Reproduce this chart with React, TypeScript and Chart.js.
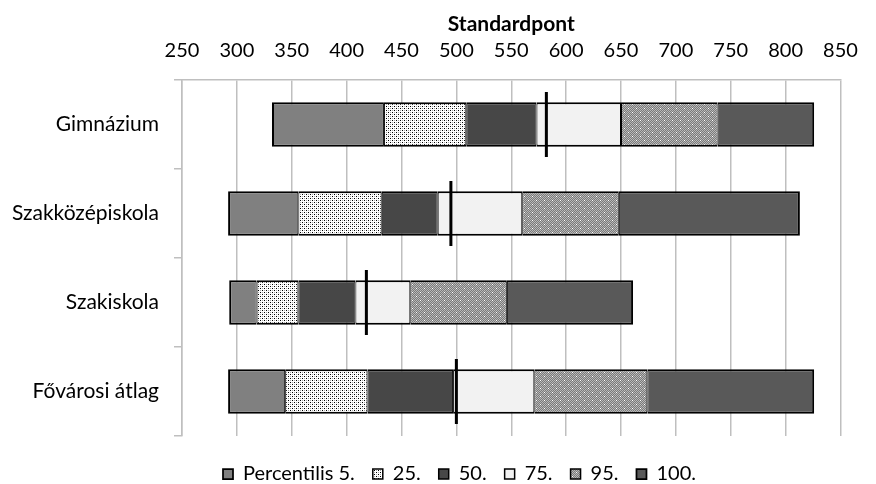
import React, { useEffect, useRef } from 'react';
import { Chart, registerables } from 'chart.js';

Chart.register(...registerables);

// ---- data ----
const categories = ['Gimnázium', 'Szakközépiskola', 'Szakiskola', 'Fővárosi átlag'];
const seriesLabels = ['Percentilis 5.', '25.', '50.', '75.', '95.', '100.'];
const barStart = [332, 292, 293, 292];
const segEnd5 = [434, 356, 318, 344];
const segEnd25 = [509, 432, 356, 419];
const segEnd50 = [573, 483, 408, 497];
const segEnd75 = [650, 560, 458, 571];
const segEnd95 = [738, 648, 546, 674];
const segEnd100 = [826, 813, 661, 826];
const meanValues = [582, 495, 418, 500];
const axisMin = 250;
const axisMax = 850;
const axisStep = 50;
const axisTitle = 'Standardpont';

const FONT = 'Lato, "Noto Sans", sans-serif';

function makePattern(size: number, draw: (g: CanvasRenderingContext2D) => void) {
  const c = document.createElement('canvas');
  c.width = size;
  c.height = size;
  const g = c.getContext('2d') as CanvasRenderingContext2D;
  draw(g);
  return g.createPattern(c, 'repeat') as CanvasPattern;
}

export default function App() {
  const ref = useRef<HTMLCanvasElement | null>(null);

  useEffect(() => {
    document.body.style.margin = '0';
    const canvas = ref.current;
    if (!canvas) return;

    const dotted = makePattern(4, (g) => {
      g.fillStyle = '#ffffff';
      g.fillRect(0, 0, 4, 4);
      g.fillStyle = '#000000';
      g.fillRect(0, 0, 1, 1);
      g.fillRect(2, 2, 1, 1);
      g.fillStyle = '#a8a8a8';
      g.fillRect(2, 0, 1, 1);
      g.fillRect(0, 2, 1, 1);
    });
    const grayDots = makePattern(8, (g) => {
      for (let y = 0; y < 8; y++) {
        for (let x = 0; x < 8; x++) {
          g.fillStyle = (x + y) % 2 ? '#7a7a7a' : '#b8b8b8';
          g.fillRect(x, y, 1, 1);
        }
      }
      g.fillStyle = '#ffffff';
      g.fillRect(0, 0, 1, 1);
      g.fillRect(4, 4, 1, 1);
    });

    const bounds = [barStart, segEnd5, segEnd25, segEnd50, segEnd75, segEnd95, segEnd100];
    const fills: (string | CanvasPattern)[] = ['#808080', dotted, '#474747', '#f2f2f2', grayDots, '#595959'];

    const barSets: any[] = seriesLabels.map((label, i) => ({
      type: 'bar',
      label,
      data: categories.map((_, j) => [bounds[i][j], bounds[i + 1][j]]),
      backgroundColor: fills[i],
      borderColor: '#000000',
      borderWidth: {
        top: 2,
        bottom: 2,
        left: i === 0 ? 2 : 1,
        right: i === seriesLabels.length - 1 ? 2 : 1,
      },
      borderSkipped: false,
      barPercentage: 0.5,
      categoryPercentage: 1,
      order: 1,
    }));

    const meanSet: any = {
      type: 'scatter',
      label: 'mean',
      data: categories.map((c, j) => ({ x: meanValues[j], y: c })),
      pointStyle: 'line',
      pointRotation: 90,
      pointRadius: 32.5,
      pointHoverRadius: 32.5,
      pointBorderColor: '#000000',
      pointBackgroundColor: '#000000',
      pointBorderWidth: 3,
      borderColor: '#000000',
      showLine: false,
      order: 0,
    };

    const legendShift = {
      id: 'legendShift',
      afterLayout(chart: any) {
        const l = chart.legend;
        if (!l) return;
        const dx = 31;
        const dy = 10;
        l.left += dx;
        l.right += dx;
        l.top += dy;
        l.bottom += dy;
      },
    };

    const chart = new Chart(canvas, {
      type: 'bar',
      data: { labels: categories, datasets: [...barSets, meanSet] },
      plugins: [legendShift],
      options: {
        animation: false,
        responsive: false,
        devicePixelRatio: 1,
        indexAxis: 'y',
        events: [],
        layout: { padding: { left: 0, right: 19, top: 0, bottom: 0 } },
        scales: {
          x: {
            type: 'linear',
            position: 'top',
            min: axisMin,
            max: axisMax,
            ticks: {
              stepSize: axisStep,
              font: { family: FONT, size: 20 },
              color: '#000000',
              padding: 17,
            },
            grid: { color: '#bfbfbf', lineWidth: 1.5, drawTicks: false },
            border: { display: true, color: '#bfbfbf', width: 1.5 },
            title: {
              display: true,
              text: axisTitle,
              font: { family: FONT, size: 21, weight: 'bold' },
              color: '#000000',
              padding: { top: 12, bottom: 0 },
            },
            afterFit: (s: any) => {
              s.height = 80;
            },
          },
          y: {
            type: 'category',
            stacked: true,
            offset: true,
            grid: {
              offset: true,
              drawOnChartArea: false,
              drawTicks: true,
              tickLength: 8,
              color: '#bfbfbf',
              lineWidth: 1.5,
            },
            border: { display: true, color: '#bfbfbf', width: 1.5 },
            ticks: {
              font: { family: FONT, size: 21 },
              color: '#000000',
              padding: 15,
            },
            afterFit: (s: any) => {
              s.width = 182;
            },
          },
        },
        plugins: {
          tooltip: { enabled: false },
          title: { display: false },
          legend: {
            position: 'bottom',
            labels: {
              font: { family: FONT, size: 20 },
              color: '#000000',
              boxWidth: 10,
              boxHeight: 10,
              padding: 18,
              filter: (item: any) => item.datasetIndex < seriesLabels.length,
            },
          },
        },
      } as any,
    });

    return () => {
      chart.destroy();
    };
  }, []);

  return (
    <div style={{ width: 876, height: 484 }}>
      <canvas ref={ref} width={876} height={484} style={{ display: 'block' }} />
    </div>
  );
}
